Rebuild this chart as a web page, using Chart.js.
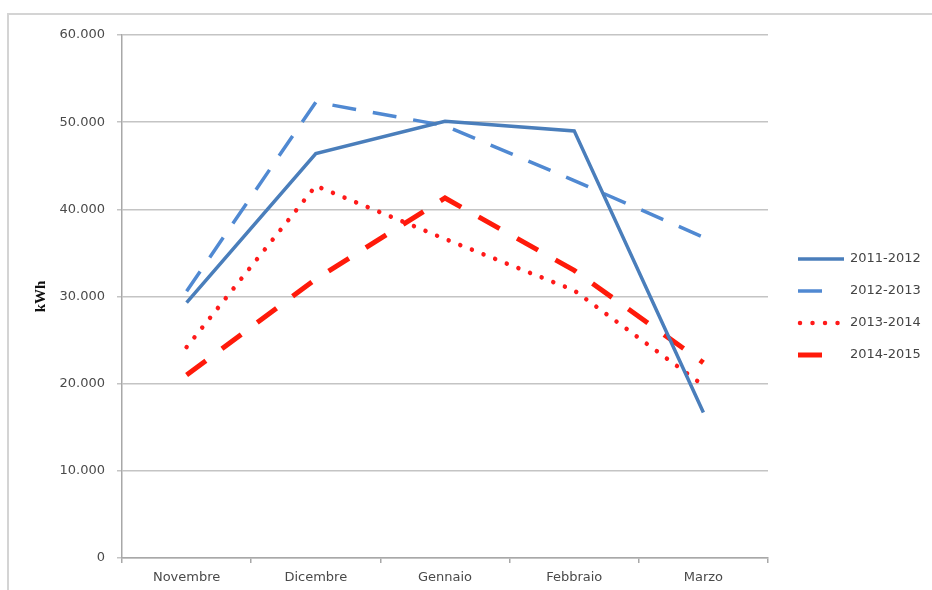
<!DOCTYPE html>
<html>
<head>
<meta charset="utf-8">
<script src="https://cdn.jsdelivr.net/npm/chart.js@4/dist/chart.umd.min.js"></script>
<style>
  html, body { margin: 0; padding: 0; background: #ffffff; }
  #wrap { position: relative; width: 932px; height: 590px; }
  #frame { position: absolute; left: 7px; top: 13px; right: 0; bottom: 0;
           border-left: 2px solid #d4d4d4; border-top: 2px solid #d4d4d4; pointer-events: none; }
</style>
</head>
<body>
<div id="wrap">
  <canvas id="c" width="932" height="590"></canvas>
  <div id="frame"></div>
</div>
<script>
// ---- data ----
const months = ["Novembre", "Dicembre", "Gennaio", "Febbraio", "Marzo"];
const seriesNames = ["2011-2012", "2012-2013", "2013-2014", "2014-2015"];
const s20112012 = [29300, 46400, 50100, 49000, 16700];
const s20122013 = [30600, 52300, 49600, 43300, 36800];
const s20132014 = [24200, 42700, 36600, 30700, 19800];
const s20142015 = [21000, 32000, 41300, 33000, 22400];
const yMin = 0, yMax = 60000, yStep = 10000;
const yTitle = "kWh";

function fmtIt(v) {
  return String(Math.round(v)).replace(/\B(?=(\d{3})+(?!\d))/g, ".");
}

const sideLegend = {
  id: 'sideLegend',
  afterDraw(chart) {
    const { ctx, chartArea } = chart;
    const x0 = chartArea.right + 30, len = 46;
    chart.data.datasets.forEach((ds, i) => {
      const y = chartArea.top + 224 + i * 32;
      let dash = ds.borderDash || [];
      if (dash.length && dash[0] > 1) dash = [dash[0], 200];
      ctx.save();
      ctx.strokeStyle = ds.borderColor;
      ctx.lineWidth = ds.borderWidth;
      ctx.setLineDash(dash);
      ctx.lineCap = ds.borderCapStyle || 'butt';
      ctx.beginPath();
      ctx.moveTo(x0 + (ds.borderCapStyle === 'round' ? 2 : 0), y);
      ctx.lineTo(x0 + len, y);
      ctx.stroke();
      ctx.restore();
      ctx.save();
      ctx.fillStyle = '#444444';
      ctx.font = '13px "DejaVu Sans"';
      ctx.textBaseline = 'middle';
      ctx.textAlign = 'left';
      ctx.fillText(ds.label, x0 + len + 6, y);
      ctx.restore();
    });
  }
};

new Chart(document.getElementById('c'), {
  type: 'line',
  data: {
    labels: months,
    datasets: [
      { label: seriesNames[0], data: s20112012, borderColor: '#4a7ebb', borderWidth: 3.5,
        borderDash: [], borderCapStyle: 'butt', pointRadius: 0, tension: 0, fill: false },
      { label: seriesNames[1], data: s20122013, borderColor: '#5089d2', borderWidth: 3.5,
        borderDash: [24, 17], borderCapStyle: 'butt', pointRadius: 0, tension: 0, fill: false },
      { label: seriesNames[2], data: s20132014, borderColor: '#ff1a1a', borderWidth: 4.5,
        borderDash: [0.01, 12.5], borderCapStyle: 'round', pointRadius: 0, tension: 0, fill: false },
      { label: seriesNames[3], data: s20142015, borderColor: '#ff1a0a', borderWidth: 5,
        borderDash: [24, 20], borderCapStyle: 'butt', pointRadius: 0, tension: 0, fill: false }
    ]
  },
  options: {
    responsive: false,
    animation: false,
    devicePixelRatio: 1,
    layout: { padding: { left: 28, top: 35, right: 164, bottom: 0 } },
    plugins: { legend: { display: false }, tooltip: { enabled: false } },
    scales: {
      x: {
        type: 'category',
        offset: true,
        grid: { offset: true, drawOnChartArea: false, drawTicks: true, tickLength: 5,
                color: '#a8a8a8', lineWidth: 1.5 },
        border: { color: '#a8a8a8', width: 1.5 },
        ticks: { color: '#4a4a4a', font: { family: 'DejaVu Sans', size: 13 }, padding: 7,
                 maxRotation: 0, autoSkip: false },
        afterFit(s) { s.height = 32; }
      },
      y: {
        min: yMin, max: yMax,
        ticks: { stepSize: yStep, color: '#4a4a4a', font: { family: 'DejaVu Sans', size: 13 },
                 padding: 12, callback: (v) => fmtIt(v) },
        grid: { color: '#c4c4c4', lineWidth: 1.5, drawTicks: true, tickLength: 5 },
        border: { color: '#a8a8a8', width: 1.5 },
        title: { display: true, text: yTitle, color: '#111111',
                 font: { family: 'Liberation Serif', size: 15, weight: 'bold' },
                 padding: { top: 4, bottom: 4 } },
        afterFit(s) { s.width = 94; }
      }
    }
  },
  plugins: [sideLegend]
});
</script>
</body>
</html>
